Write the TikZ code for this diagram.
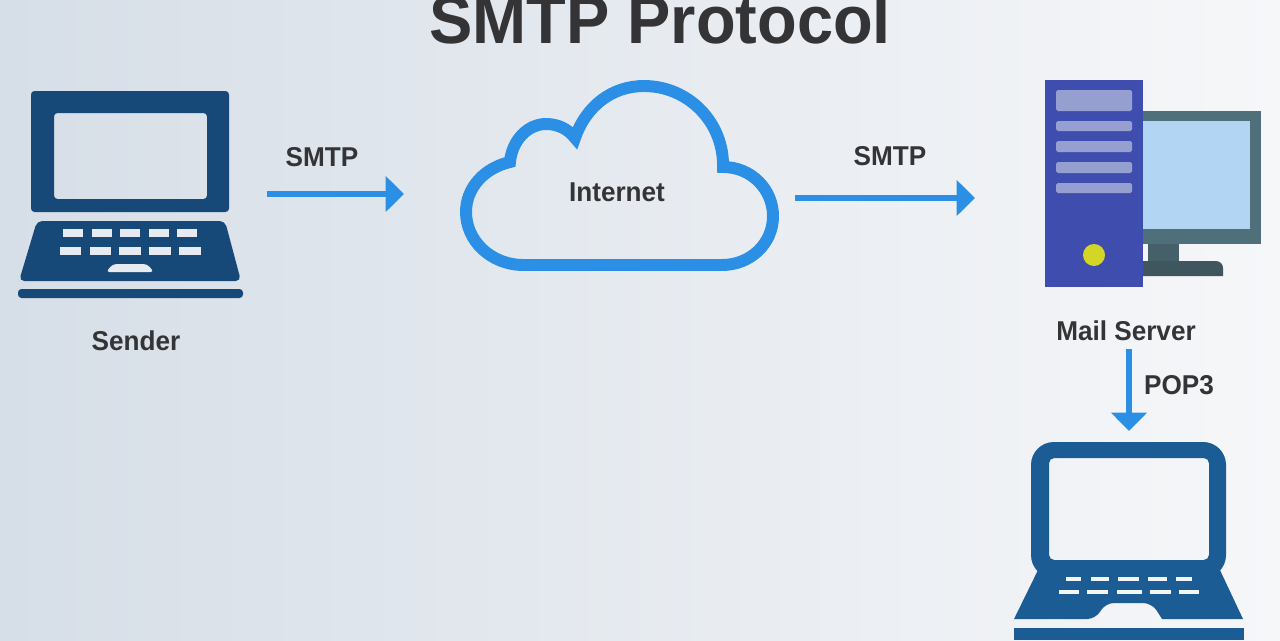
\documentclass[tikz,border=0pt]{standalone}
\usepackage{fontspec}
\setmainfont{Liberation Sans}[FakeStretch=0.96]
\usepackage{tikz}
\usetikzlibrary{arrows.meta}
\definecolor{bgleft}{RGB}{214, 222, 231}
\definecolor{bgright}{RGB}{246, 247, 249}
\definecolor{labeltext}{RGB}{52, 52, 54}
\definecolor{linkblue}{RGB}{42, 143, 229}
\definecolor{senderblue}{RGB}{23, 73, 120}
\definecolor{readerblue}{RGB}{27, 92, 148}
\definecolor{tower}{RGB}{63, 78, 174}
\definecolor{slot}{RGB}{150, 160, 208}
\definecolor{led}{RGB}{212, 214, 38}
\definecolor{bezel}{RGB}{79, 111, 122}
\definecolor{glass}{RGB}{177, 213, 242}
\definecolor{stand}{RGB}{70, 96, 105}

\begin{document}
\begin{tikzpicture}[x=0.02cm, y=-0.02cm,
    label/.style={text=labeltext, font=\fontsize{15.5}{18}\selectfont\bfseries},
    link/.style={draw=linkblue, line width=3.3pt, -{Triangle[length=10.5pt, width=20pt]}}]
  \useasboundingbox (0, 0) rectangle (1280, 640);
  \clip (0, 0) rectangle (1280, 640);
  \shade [left color=bgleft, right color=bgright] (0, 0) rectangle (1280, 640);

  \node [label, font=\fontsize{38.5}{42}\selectfont\bfseries] (title) at (660, 19) {SMTP Protocol};

  % sender laptop
  \fill [senderblue, even odd rule, rounded corners=2pt]
    (31, 212) -- (31, 91) -- (229, 91) -- (229, 212) -- cycle
    (54, 113) rectangle (207, 199);
  \fill [senderblue, rounded corners=3pt]
    (37, 221) -- (225, 221) -- (241, 281) -- (19, 281) -- cycle;
  \foreach \xa/\xb in {63/83, 92/112, 120/140, 149/169, 177/197}
    \fill [bgleft!60!white] (\xa, 229) rectangle (\xb, 237);
  \foreach \xa/\xb in {60/81, 90/111, 119/141, 149/171, 179/201}
    \fill [bgleft!60!white] (\xa, 247) rectangle (\xb, 255);
  \fill [bgleft!60!white, rounded corners=2pt] (106, 272) -- (113, 264) -- (147, 264) -- (154, 272) -- cycle;
  \fill [senderblue, rounded corners=2pt] (18, 289) -- (243, 289) -- (243, 298) -- (18, 298) -- cycle;
  \node [label] (sender) at (136, 341) {Sender};

  % cloud
  \draw [linkblue, line width=6.8pt, miter limit=6]
    (524, 265) .. controls (490, 265) and (466, 240) .. (466, 212)
    .. controls (466, 188) and (484, 168) .. (510, 162)
    .. controls (512, 140) and (528, 124) .. (546, 124)
    .. controls (558, 124) and (568, 129) .. (575, 138)
    .. controls (586, 106) and (612, 86) .. (644, 86)
    .. controls (688, 86) and (724, 122) .. (723, 167)
    .. controls (752, 167) and (773, 190) .. (773, 216)
    .. controls (773, 244) and (750, 265) .. (722, 265)
    -- cycle;
  \node [label] (internet) at (617, 192) {Internet};

  % mail server
  \fill [bezel] (1143, 111) rectangle (1261, 244);
  \fill [glass] (1143, 121) rectangle (1250, 229);
  \fill [stand] (1148, 244) rectangle (1179, 262);
  \fill [stand!90!black] (1140, 261) [rounded corners=4pt] -- (1223, 261) [sharp corners] -- (1223, 276) -- (1140, 276) -- cycle;
  \fill [tower] (1045, 80) rectangle (1143, 287);
  \fill [slot, rounded corners=1pt] (1056, 90) rectangle (1132, 111);
  \foreach \ya/\yb in {121/131, 141/152, 162/173, 183/193}
    \fill [slot, rounded corners=1pt] (1056, \ya) rectangle (1132, \yb);
  \fill [led] (1094, 255) circle (11);
  \node [label] (server) at (1126, 331) {Mail Server};

  % reading laptop
  \fill [readerblue, even odd rule]
    [rounded corners=13pt] (1031, 442) rectangle (1226, 578)
    [rounded corners=3pt] (1049, 458) rectangle (1209, 560);
  \fill [readerblue]
    (1039, 568) -- (1219, 568) -- (1243, 619) -- (1162, 619)
    [rounded corners=5pt] -- (1152, 603) -- (1105, 603) -- (1096, 619) [sharp corners]
    -- (1014, 619) -- cycle;
  \foreach \xa/\xb in {1066/1081, 1091/1109, 1118/1139, 1148/1167, 1176/1192}
    \fill [bgright!90!bgleft] (\xa, 577) rectangle (\xb, 581);
  \foreach \xa/\xb in {1059/1079, 1087/1108, 1117/1142, 1150/1171, 1179/1199}
    \fill [bgright!90!bgleft] (\xa, 590) rectangle (\xb, 594);
  \fill [readerblue] (1014, 628) rectangle (1244, 640);

  % links
  \coordinate (linkastart) at (267, 194);
  \coordinate (linkaend) at (404, 194);
  \coordinate (linkbstart) at (795, 198);
  \coordinate (linkbend) at (975, 198);
  \coordinate (linkcstart) at (1129, 349);
  \coordinate (linkcend) at (1129, 431);
  \draw [link] (linkastart) -- (linkaend);
  \draw [link] (linkbstart) -- (linkbend);
  \draw [link] (linkcstart) -- (linkcend);
  \node [label] (smtpa) at (322, 157) {SMTP};
  \node [label] (smtpb) at (890, 156) {SMTP};
  \node [label] (pop) at (1179, 385) {POP3};
\end{tikzpicture}
\end{document}
